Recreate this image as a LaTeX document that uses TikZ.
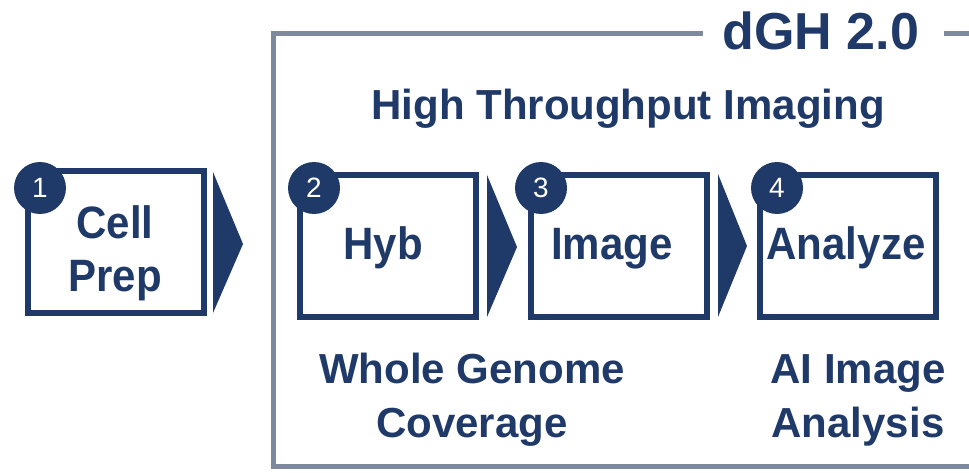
\documentclass[tikz,border=0pt]{standalone}
\usepackage{fontspec}
\setmainfont{Liberation Sans}
\definecolor{navy}{HTML}{1F3A68}
\definecolor{framegray}{HTML}{7F899D}
\begin{document}
\begin{tikzpicture}[x=1pt,y=-1pt,
  stepbox/.style={draw=navy,line width=6pt,minimum width=176pt,minimum height=142pt,inner sep=0pt},
  numdot/.style={circle,fill=navy,minimum size=52pt,inner sep=0pt,text=white,font=\fontsize{28}{28}\selectfont},
  arrowtri/.style={fill=navy},
  label/.style={text=navy,font=\bfseries\fontsize{42}{54}\selectfont,anchor=base,inner sep=0pt},
  boxlabel/.style={label,yscale=1.08,transform shape},
  frame/.style={draw=framegray,line width=5pt}]
\useasboundingbox (0,0) rectangle (969,473);
\fill[white] (0,0) rectangle (969,473);
% frame
\node[text=navy,font=\bfseries\fontsize{52}{52}\selectfont,anchor=base,inner sep=0pt] (title) at (821,50) {dGH 2.0};
\coordinate (fl) at (273,34);
\coordinate (fb) at (273,466);
\coordinate (fr) at (969,466);
\coordinate (ftr) at (969,34);
\draw[frame] ([xshift=-20pt]title.west |- fl) -- (fl) -- (fb) -- (fr);
\draw[frame] ([xshift=25pt]title.east |- ftr) -- (ftr);
\node[label] (hti) at (628,120) {High Throughput Imaging};
% boxes
\node[stepbox] (b1) at (116,242) {};
\node[stepbox] (b2) at (387.5,246) {};
\node[stepbox] (b3) at (619,246) {};
\node[stepbox] (b4) at (847.5,246) {};
\node[boxlabel] (t1a) at (115,238) {Cell};
\node[boxlabel] (t1b) at (115,291) {Prep};
\node[boxlabel] (t2) at (383,259) {Hyb};
\node[boxlabel] (t3) at (612,259) {Image};
\node[boxlabel] (t4) at (846,259) {Analyze};
% arrows
\fill[arrowtri] (213,172) -- (243,244) -- (213,313) -- cycle;
\fill[arrowtri] (487,175) -- (517,247) -- (487,317) -- cycle;
\fill[arrowtri] (718,174) -- (747,246) -- (718,317) -- cycle;
% number dots
\node[numdot] (n1) at (40,188) {1};
\node[numdot] (n2) at (314,188) {2};
\node[numdot] (n3) at (541,188) {3};
\node[numdot] (n4) at (777,188) {4};
% bottom labels
\node[label] (wg1) at (472,383) {Whole Genome};
\node[label] (wg2) at (472,437) {Coverage};
\node[label] (ai1) at (858,383) {AI Image};
\node[label] (ai2) at (858,437) {Analysis};
\end{tikzpicture}
\end{document}
